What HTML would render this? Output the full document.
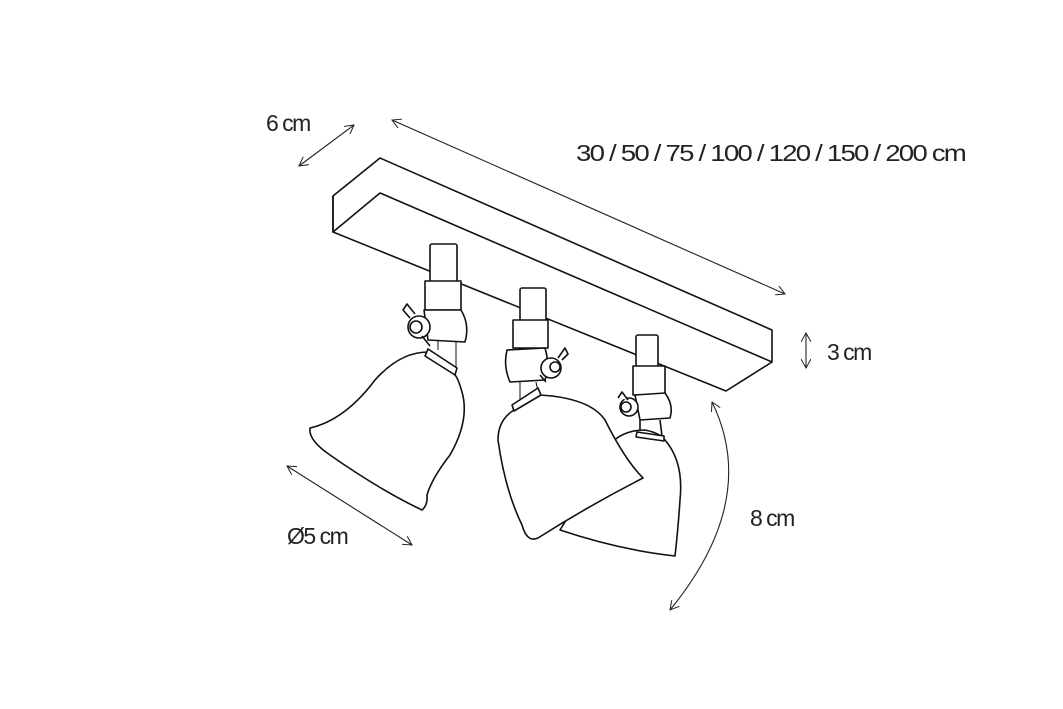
<!DOCTYPE html>
<html><head><style>body{margin:0;background:#fff}svg{display:block}</style></head>
<body>
<svg width="1063" height="709" viewBox="0 0 1063 709" xmlns="http://www.w3.org/2000/svg">
<defs>
<marker id="a" viewBox="0 0 10 10" refX="9" refY="5" markerWidth="10" markerHeight="10" orient="auto-start-reverse" markerUnits="userSpaceOnUse"><path d="M0,0 L9,5 L0,10" fill="none" stroke="#222" stroke-width="1"/></marker>
</defs>
<g fill="#fff" stroke="#111" stroke-width="1.6" stroke-linejoin="round">
<!-- bar -->
<path d="M333,196 L380,158 L772,330 L772,362 L726,391 L333,232 Z"/>
<path d="M333,232 L380,193 L772,362" fill="none"/>
<path d="M333,196 L333,232" fill="none"/>
<!-- lamp3 -->
<rect x="636" y="335" width="22" height="33" rx="2"/>
<rect x="633" y="366" width="32" height="29"/>
<path d="M635,395 L665,393 Q674,405 670,418 L640,420 Z"/>
<path d="M640,420 L640,434 M660,420 L662,436" fill="none"/>
<path d="M612,442 Q625,430 645,430 Q660,433 665,440 Q684,462 680,500 Q678,530 675,556 Q620,550 560,530 Q585,490 612,442 Z"/>
<path d="M637,432 L664,436 L664,441 L636,437 Z"/>
<circle cx="629" cy="407" r="9"/><circle cx="626" cy="407" r="5"/>
<path d="M618,398 L622,392 L628,400"/>
<!-- lamp2 -->
<rect x="520" y="288" width="26" height="33" rx="2"/>
<rect x="513" y="320" width="35" height="28"/>
<path d="M507,350 L545,348 Q550,364 545,380 L510,382 Q503,366 507,350 Z"/>
<path d="M520,382 L520,400 M536,382 L538,392" fill="none" stroke-width="1"/>
<path d="M514,410 Q498,420 498,440 Q505,490 522,525 Q527,543 538,538 Q590,505 643,478 Q625,460 605,420 Q590,398 540,395 Z"/>
<path d="M512,405 L538,388 L541,395 L514,411 Z"/>
<circle cx="551" cy="368" r="10"/><circle cx="555" cy="367" r="5"/>
<path d="M558,358 L565,348 L568,354 L562,360"/>
<path d="M540,375 L546,382"/>
<!-- lamp1 -->
<rect x="430" y="244" width="27" height="40" rx="2"/>
<rect x="425" y="281" width="36" height="29"/>
<path d="M424,310 L461,310 Q470,325 465,342 L428,340 Z"/>
<path d="M438,340 L438,350 M456,342 L456,372" fill="none" stroke-width="1"/>
<path d="M428,352 Q400,352 375,380 Q345,420 310,428 Q308,440 330,455 Q380,490 422,510 Q428,505 427,495 Q432,478 450,455 Q470,420 462,392 Q458,378 455,375 Z"/>
<path d="M428,349 L457,368 L455,375 L425,356 Z"/>
<circle cx="419" cy="327" r="11"/><circle cx="416" cy="327" r="6"/>
<path d="M410,318 L403,310 L407,304 L415,314"/>
<path d="M422,336 L430,346"/>
</g>
<g stroke="#222" stroke-width="1.1" fill="none" marker-start="url(#a)" marker-end="url(#a)">
<line x1="299" y1="166" x2="354" y2="125"/>
<line x1="392" y1="120" x2="785" y2="294"/>
<line x1="806" y1="333" x2="806" y2="368"/>
<line x1="287" y1="466" x2="412" y2="545"/>
<path d="M712,402 Q760,500 670,610"/>
</g>
<g font-family="Liberation Sans, sans-serif" font-size="23" fill="#222" letter-spacing="-1.5">
<text x="266" y="131">6 cm</text>
<text x="576" y="161" textLength="389" lengthAdjust="spacingAndGlyphs">30 / 50 / 75 / 100 / 120 / 150 / 200 cm</text>
<text x="827" y="360">3 cm</text>
<text x="750" y="526">8 cm</text>
<text x="287" y="544">Ø5 cm</text>
</g>
</svg>
</body></html>
